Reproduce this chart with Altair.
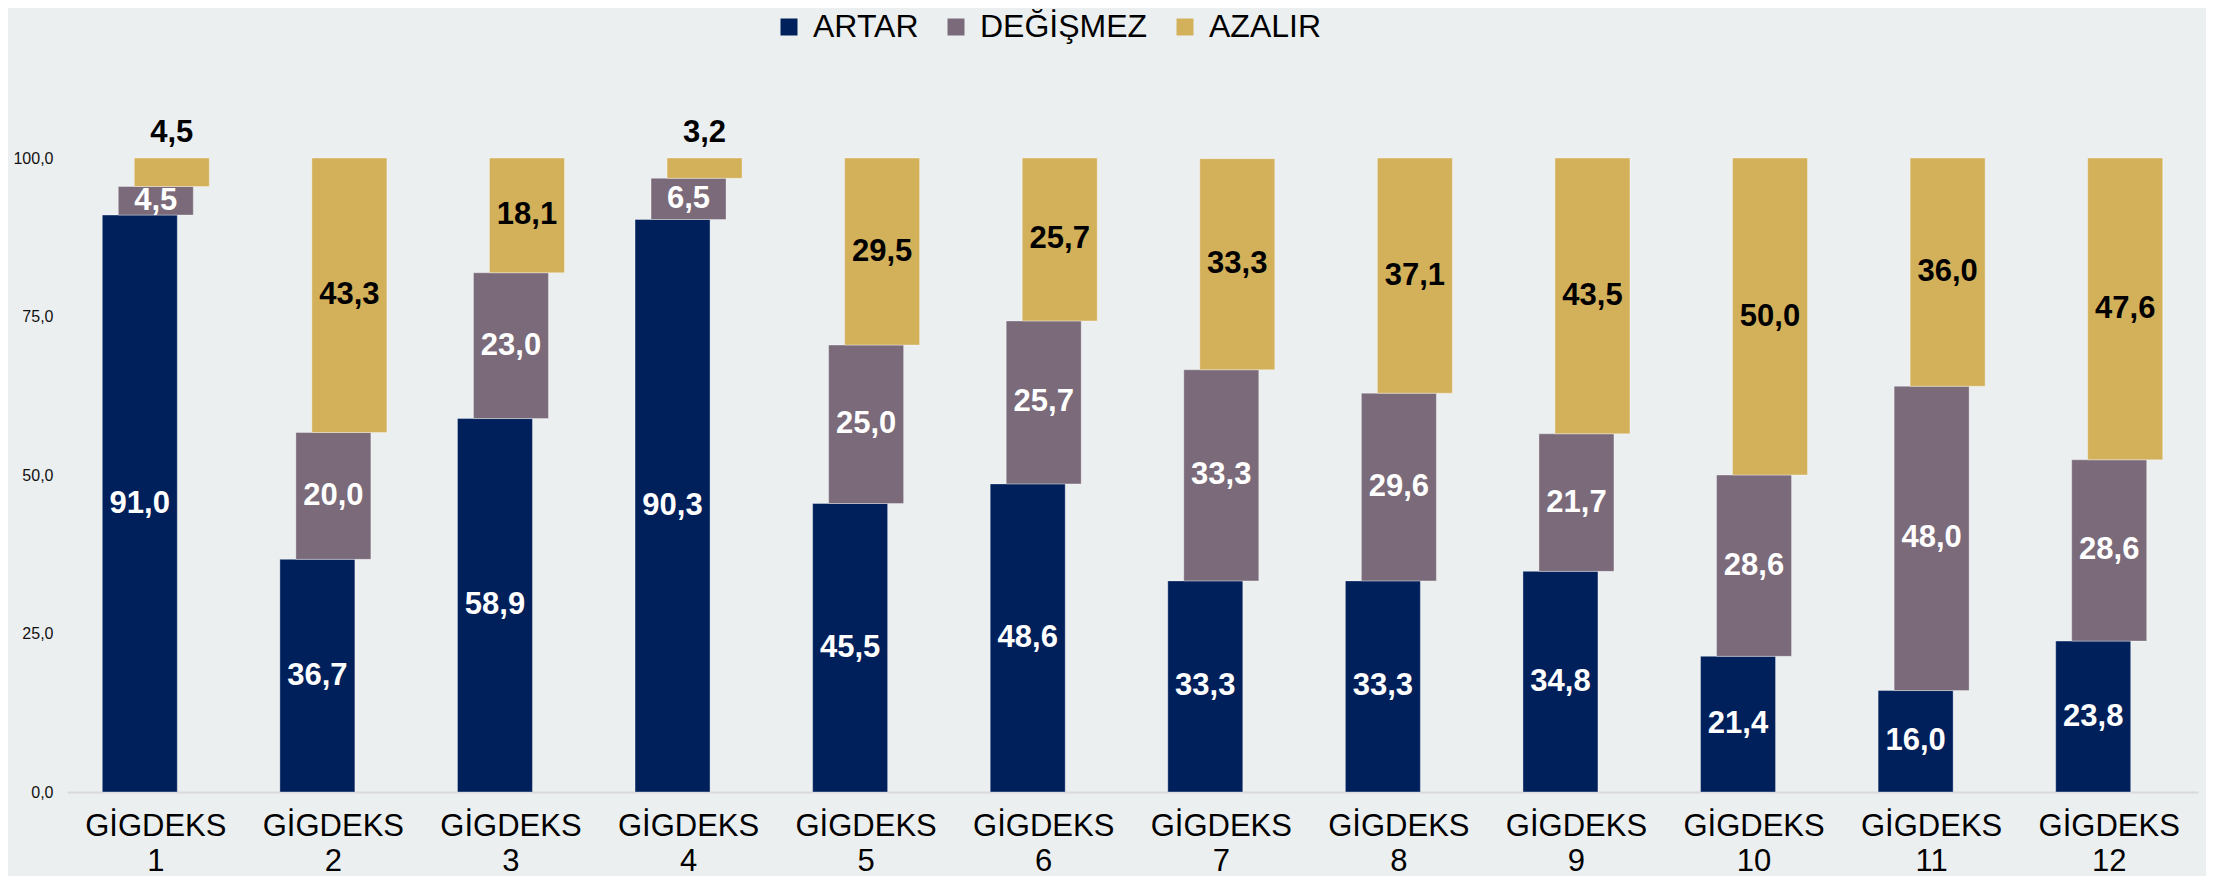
import altair as alt
import pandas as pd

groups = ["GİGDEKS 1", "GİGDEKS 2", "GİGDEKS 3", "GİGDEKS 4", "GİGDEKS 5", "GİGDEKS 6",
          "GİGDEKS 7", "GİGDEKS 8", "GİGDEKS 9", "GİGDEKS 10", "GİGDEKS 11", "GİGDEKS 12"]
series = ["ARTAR", "DEĞİŞMEZ", "AZALIR"]
artar = [91.0, 36.7, 58.9, 90.3, 45.5, 48.6, 33.3, 33.3, 34.8, 21.4, 16.0, 23.8]
degismez = [4.5, 20.0, 23.0, 6.5, 25.0, 25.7, 33.3, 29.6, 21.7, 28.6, 48.0, 28.6]
azalir = [4.5, 43.3, 18.1, 3.2, 29.5, 25.7, 33.3, 37.1, 43.5, 50.0, 36.0, 47.6]
colors = ["#00205C", "#7A6A7A", "#D3B05A"]
offsets = [-16, 0, 16]
label_colors = ["white", "white", "black"]

rows = []
for i, g in enumerate(groups):
    base = 0.0
    for s, vals in zip(series, [artar, degismez, azalir]):
        v = vals[i]
        rows.append({"group": g, "series": s, "value": v, "start": base, "end": base + v,
                     "mid": base + v / 2, "small": (s == "AZALIR" and v < 10)})
        base += v
df = pd.DataFrame(rows)

FONT = "Liberation Sans"

x = alt.X("group:N", sort=groups, title=None,
          scale=alt.Scale(paddingInner=0, paddingOuter=0),
          axis=alt.Axis(labelAngle=0, ticks=False, domainColor="#d9d9d9", domainWidth=2,
                        labelFontSize=31, labelFont=FONT, labelColor="black",
                        labelLineHeight=35, labelPadding=19,
                        labelExpr="split(datum.label, ' ')"))
y_scale = alt.Scale(domain=[0, 100], nice=False)
y_axis = alt.Axis(values=[0, 25, 50, 75, 100], domain=False, ticks=False, grid=False,
                  labelFontSize=16, labelFont=FONT, labelColor="#111111", labelPadding=14,
                  title=None,
                  labelExpr="replace(format(datum.value, '.1f'), '.', ',')")

base = alt.Chart(df).transform_calculate(
    lbl="replace(format(datum.value, '.1f'), '.', ',')"
)

layers = []
for i, s in enumerate(series):
    bar = base.transform_filter(alt.datum.series == s).mark_bar(
        size=75, xOffset=offsets[i], stroke="white", strokeOpacity=0.35, strokeWidth=1
    ).encode(
        x=x,
        y=alt.Y("start:Q", scale=y_scale, axis=y_axis, title=None),
        y2="end:Q",
        color=alt.Color("series:N", scale=alt.Scale(domain=series, range=colors),
                        legend=alt.Legend(title=None, orient="none", direction="horizontal",
                                          legendX=706, legendY=-147,
                                          symbolType="square", symbolSize=289,
                                          symbolStrokeWidth=0, labelFontSize=32,
                                          labelFont=FONT, labelColor="black",
                                          labelLimit=500,
                                          labelOffset=8, columnPadding=21))
    )
    layers.append(bar)
for i, s in enumerate(series):
    txt = base.transform_filter((alt.datum.series == s) & (alt.datum.small == False)).mark_text(
        xOffset=offsets[i], fontSize=31, fontWeight="bold", font=FONT,
        color=label_colors[i], baseline="middle"
    ).encode(x=alt.X("group:N", sort=groups),
             y=alt.Y("mid:Q", scale=y_scale, axis=y_axis, title=None), text="lbl:N")
    layers.append(txt)
small = base.transform_filter(alt.datum.small == True).mark_text(
    xOffset=offsets[2], dy=-25, fontSize=31, fontWeight="bold", font=FONT,
    color="black", baseline="middle"
).encode(x=alt.X("group:N", sort=groups),
         y=alt.Y("end:Q", scale=y_scale, axis=y_axis, title=None), text="lbl:N")
layers.append(small)

chart = alt.layer(*layers).properties(
    width=2131, height=634, background="#ECEFF0",
    autosize=alt.AutoSizeParams(type="none"),
    padding={"left": 59, "top": 150, "right": 8, "bottom": 84}
).configure_view(stroke=None)

chart.save("out.html", embed_options={"renderer": "svg", "actions": False})
